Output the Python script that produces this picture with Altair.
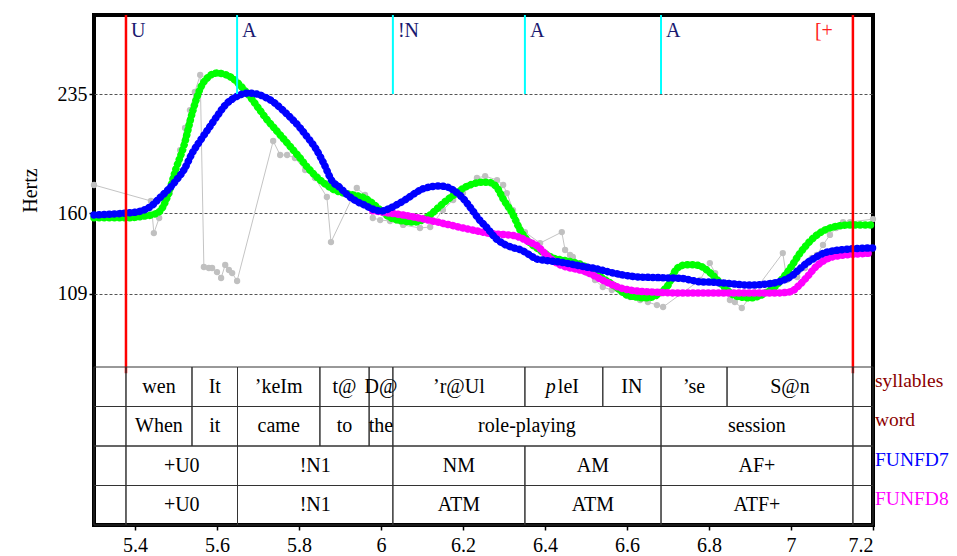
import altair as alt
import pandas as pd

FONT = "Liberation Serif"

# ---------------- data ----------------
T_START = 5.30
T_STEP = 0.02

green_hz = [157.0, 157.0, 157.0, 157.0, 157.0, 157.3, 158.0, 158.8, 161.0, 171.0,
            188.0, 203.0, 223.5, 239.0, 246.0, 248.2, 247.3, 244.5, 239.5, 233.5,
            226.5, 219.5, 213.5, 207.5, 201.5, 195.5, 189.0, 183.5, 179.0, 175.5,
            173.2, 172.0, 171.0, 169.5, 166.0, 161.5, 157.5, 155.6, 154.8, 154.3,
            155.5, 158.8, 163.5, 168.0, 171.8, 175.5, 178.0, 179.3, 179.5, 177.0,
            168.0, 160.0, 149.0, 142.0, 138.0, 134.5, 131.7, 130.5, 129.5, 128.3,
            126.0, 122.5, 119.0, 115.8, 112.0, 108.3, 107.2, 106.6, 107.0, 109.6,
            114.5, 124.5, 127.3, 127.5, 126.5, 123.0, 118.0, 112.5, 108.3, 107.0,
            106.5, 107.5, 110.0, 113.5, 119.0, 126.0, 134.0, 140.5, 145.5, 149.0,
            151.0, 152.0, 152.5, 152.5, 152.5, 152.5]

blue_hz = [158.8, 159.0, 159.3, 159.6, 160.0, 160.5, 161.7, 164.5, 169.5, 174.5,
           180.5, 187.5, 198.0, 206.0, 213.5, 221.0, 228.0, 232.3, 234.8, 235.6,
           234.8, 232.7, 229.5, 225.0, 220.0, 214.5, 208.0, 201.0, 191.5, 180.5,
           176.0, 171.0, 167.5, 165.0, 162.5, 161.3, 162.8, 165.5, 168.5, 172.0,
           175.0, 176.5, 177.0, 176.5, 173.8, 169.3, 162.8, 155.8, 150.3, 144.0,
           140.5, 138.3, 136.9, 134.0, 131.0, 130.2, 129.6, 129.0, 128.0, 127.0,
           126.0, 125.2, 124.0, 122.6, 121.5, 120.6, 119.9, 119.6, 119.4, 119.3,
           119.1, 119.0, 118.6, 117.5, 116.6, 116.5, 116.2, 115.8, 115.3, 114.8,
           114.6, 114.8, 115.3, 116.0, 117.5, 120.0, 124.5, 128.8, 132.0, 134.8,
           136.0, 136.8, 137.3, 137.6, 137.9, 138.0]

MAG_START = 5.98
magenta_hz = [161.5, 160.8, 160.0, 159.3, 158.5, 157.5, 156.5, 155.3, 154.2, 153.0,
              151.8, 150.6, 149.5, 148.4, 147.4, 146.8, 146.4, 146.0, 144.5, 142.0,
              139.5, 134.5, 130.0, 127.0, 125.5, 124.4, 123.0, 120.5, 117.8, 115.3,
              113.2, 111.8, 111.0, 110.5, 110.2, 110.0, 109.8, 109.6, 109.6, 109.6,
              109.6, 109.6, 109.6, 109.6, 109.6, 109.6, 109.6, 109.6, 109.6, 109.6,
              109.8, 110.5, 114.5, 120.0, 126.0, 130.0, 132.3, 133.2, 133.8, 134.2,
              134.5, 134.8]

gray_t = [5.300, 5.439, 5.446, 5.459, 5.485, 5.500, 5.510, 5.522, 5.534, 5.546,
          5.559, 5.568, 5.580, 5.588, 5.600, 5.610, 5.620, 5.629, 5.637, 5.649,
          5.737, 5.754, 5.771, 5.790, 5.815, 5.839, 5.868, 5.878, 5.941, 5.961,
          5.980, 5.998, 6.022, 6.054, 6.095, 6.120, 6.151, 6.176, 6.200, 6.217,
          6.234, 6.254, 6.283, 6.298, 6.307, 6.322, 6.351, 6.388, 6.441, 6.449,
          6.461, 6.468, 6.485, 6.502, 6.522, 6.541, 6.563, 6.583, 6.607, 6.632,
          6.651, 6.673, 6.688, 6.778, 6.802, 6.815, 6.832, 6.851, 6.863, 6.880,
          6.980, 6.990, 7.015, 7.034, 7.051, 7.063, 7.078, 7.095, 7.110, 7.127,
          7.144, 7.200]
gray_hz = [177.7, 167.6, 147.4, 156.9, 172.6, 180.8, 199.7, 213.6, 224.9, 236.3,
           247.0, 126.0, 125.4, 125.4, 122.8, 119.1, 127.3, 124.1, 122.2, 117.2,
           205.4, 196.6, 196.6, 194.7, 187.1, 182.1, 170.1, 141.7, 175.8, 171.4,
           156.9, 155.6, 155.0, 152.5, 150.6, 151.2, 161.9, 168.2, 172.6, 177.7,
           182.1, 183.3, 180.8, 177.7, 172.6, 161.9, 148.0, 141.1, 148.0, 136.7,
           133.6, 132.3, 128.5, 122.2, 117.8, 113.4, 111.5, 110.9, 107.1, 105.2,
           103.9, 102.0, 100.8, 117.8, 128.5, 122.2, 115.9, 105.2, 103.9, 100.2,
           134.8, 117.8, 119.7, 125.4, 131.7, 133.6, 139.9, 146.2, 150.6, 154.3,
           154.3, 156.2]

# phrase boundaries (red) and accent events (cyan)
red_t = [5.378, 7.151]
cyan_t = [5.649, 6.029, 6.351, 6.683]
event_t = [5.378, 5.649, 6.029, 6.351, 6.683]
event_labels = ["U", "A", "!N", "A", "A"]
end_label = "[+"

# annotation tiers
syl_labels = ["wen", "It", "\u2019keIm", "t@", "D@", "\u2019r@Ul", "pleI", "IN", "\u2019se", "S@n"]
syl_bounds = [5.378, 5.539, 5.65, 5.851, 5.971, 6.029, 6.351, 6.541, 6.683, 6.844, 7.151]
word_labels = ["When", "it", "came", "to", "the", "role-playing", "session"]
word_bounds = [5.378, 5.539, 5.65, 5.851, 5.971, 6.029, 6.683, 7.151]
fd7_labels = ["+U0", "!N1", "NM", "AM", "AF+"]
fd7_bounds = [5.378, 5.65, 6.029, 6.351, 6.683, 7.151]
fd8_labels = ["+U0", "!N1", "ATM", "ATM", "ATF+"]
fd8_bounds = [5.378, 5.65, 6.029, 6.351, 6.683, 7.151]
tier_names = ["syllables", "word", "FUNFD7", "FUNFD8"]
tier_colors = ["#8b0000", "#8b0000", "#0000ff", "#ff00ff"]

x_ticks = [5.4, 5.6, 5.8, 6.0, 6.2, 6.4, 6.6, 6.8, 7.0, 7.2]
y_ticks = [109, 160, 235]

X_MIN, X_MAX = 5.3, 7.2
HZ_MIN, HZ_MAX = 63.0, 284.8

# ---------------- tables ----------------
green_df = pd.DataFrame({"t": [round(T_START + T_STEP * i, 2) for i in range(len(green_hz))], "hz": green_hz})
blue_df = pd.DataFrame({"t": [round(T_START + T_STEP * i, 2) for i in range(len(blue_hz))], "hz": blue_hz})
mag_df = pd.DataFrame({"t": [round(MAG_START + T_STEP * i, 2) for i in range(len(magenta_hz))], "hz": magenta_hz})
gray_df = pd.DataFrame({"t": gray_t, "hz": gray_hz})
red_df = pd.DataFrame({"t": red_t})
cyan_df = pd.DataFrame({"t": cyan_t})
ev_df = pd.DataFrame({"t": event_t, "label": event_labels})
end_df = pd.DataFrame({"t": [red_t[1]], "label": [end_label]})

cells = []
for row, (labs, bounds) in zip([3, 2, 1, 0], [(syl_labels, syl_bounds), (word_labels, word_bounds),
                                              (fd7_labels, fd7_bounds), (fd8_labels, fd8_bounds)]):
    cells.append({"start": X_MIN, "end": bounds[0], "row": row, "label": ""})
    for i, lab in enumerate(labs):
        cells.append({"start": bounds[i], "end": bounds[i + 1], "row": row, "label": lab})
    cells.append({"start": bounds[-1], "end": X_MAX, "row": row, "label": ""})
cells_df = pd.DataFrame(cells)
cells_df["top"] = cells_df["row"] + 1
names_df = pd.DataFrame({"name": tier_names, "row": [3.5, 2.5, 1.5, 0.5], "color": tier_colors})

# ---------------- scales & axes ----------------
W, H = 779, 510
xs = alt.Scale(domain=[X_MIN, X_MAX], nice=False, zero=False)
hz = alt.Scale(domain=[HZ_MIN, HZ_MAX], range=[352, 0], nice=False, zero=False)
tier = alt.Scale(domain=[0, 4], range=[H, 352], nice=False, zero=False)

x_axis = alt.Axis(values=x_ticks, format="~g", grid=False, domain=False, title=None,
                  tickSize=5, tickWidth=1.5, tickColor="black", labelPadding=5,
                  labelFont=FONT, labelFontSize=20, labelColor="black")


def X(field):
    return alt.X(field, type="quantitative", scale=xs, axis=x_axis)


y_enc = alt.Y("hz:Q", scale=hz, axis=None)

# ---------------- layers ----------------
gray_line = alt.Chart(gray_df).mark_line(color="#c4c4c4", strokeWidth=1).encode(
    x=X("t"),
    y=alt.Y("hz:Q", scale=hz, axis=alt.Axis(
        values=y_ticks, grid=True, gridDash=[3, 2], gridColor="#555555", gridWidth=1,
        domain=False, tickSize=5, tickColor="black", tickWidth=1.5, labelPadding=2,
        labelFont=FONT, labelFontSize=20, labelColor="black",
        title="Hertz", titleFont=FONT, titleFontSize=20, titleFontWeight="normal",
        titleColor="black", titleAngle=-90, titleX=-64, titleY=175,
        titleAlign="center", titleBaseline="middle")),
)
gray_pts = alt.Chart(gray_df).mark_circle(color="#c0c0c0", size=40, opacity=1).encode(x=X("t"), y=y_enc)


def dotted(df, color):
    return alt.Chart(df).mark_line(color=color, strokeWidth=7.5, strokeCap="round",
                                   strokeDash=[0.1, 5], interpolate="monotone").encode(x=X("t"), y=y_enc)


green = dotted(green_df, "#00ff00")
magenta = dotted(mag_df, "#ff00ff")
blue = dotted(blue_df, "#0000ff")

red_rules = alt.Chart(red_df).mark_rule(color="#ff0000", strokeWidth=2.5).encode(
    x=X("t"), y=alt.Y(datum=HZ_MAX, scale=hz, axis=None), y2=alt.Y2(datum=59))
cyan_rules = alt.Chart(cyan_df).mark_rule(color="#00ffff", strokeWidth=2).encode(
    x=X("t"), y=alt.Y(datum=HZ_MAX, scale=hz, axis=None), y2=alt.Y2(datum=235))

ev_text = alt.Chart(ev_df).mark_text(align="left", baseline="middle", dx=5, font=FONT,
                                     fontSize=20, color="#191970").encode(
    x=X("t"), y=alt.value(16), text="label:N")
end_text = alt.Chart(end_df).mark_text(align="right", baseline="middle", dx=-20, font=FONT,
                                       fontSize=20, color="#ff2020").encode(
    x=X("t"), y=alt.value(16), text="label:N")

cell_rects = alt.Chart(cells_df).mark_rect(fill="transparent", stroke="#333333", strokeWidth=1).encode(
    x=X("start"), x2="end:Q",
    y=alt.Y("row:Q", scale=tier, axis=None), y2="top:Q")

cell_base = alt.Chart(cells_df).transform_calculate(
    mid="(datum.start + datum.end) / 2", ymid="datum.row + 0.5")
cell_text = cell_base.transform_filter(
    "datum.label != '' && datum.label != 'pleI'").mark_text(
    baseline="middle", font=FONT, fontSize=20, color="black").encode(
    x=X("mid"), y=alt.Y("ymid:Q", scale=tier, axis=None), text="label:N")
p_text = cell_base.transform_filter("datum.label == 'pleI'").mark_text(
    baseline="middle", align="right", dx=-8, font=FONT, fontSize=20, fontStyle="italic",
    color="black", text="p").encode(
    x=X("mid"), y=alt.Y("ymid:Q", scale=tier, axis=None))
lei_text = cell_base.transform_filter("datum.label == 'pleI'").mark_text(
    baseline="middle", align="left", dx=-6, font=FONT, fontSize=20,
    color="black", text="leI").encode(
    x=X("mid"), y=alt.Y("ymid:Q", scale=tier, axis=None))

names = alt.Chart(names_df).mark_text(align="left", baseline="alphabetic", font=FONT,
                                      fontSize=19.5).encode(
    x=alt.value(W + 2), y=alt.Y("row:Q", scale=tier, axis=None), text="name:N",
    color=alt.Color("color:N", scale=None))

chart = alt.layer(
    gray_line, gray_pts, green, magenta, blue, cyan_rules, red_rules, ev_text, end_text,
    cell_rects, cell_text, p_text, lei_text, names
).resolve_scale(y="independent").properties(
    width=W, height=H,
    padding={"left": 86, "top": 7, "right": 76, "bottom": 30},
    autosize=alt.AutoSizeParams(type="none"),
    background="white",
).configure_view(stroke="black", strokeWidth=4)

chart.save("out.html", embed_options={"renderer": "svg", "actions": False})
